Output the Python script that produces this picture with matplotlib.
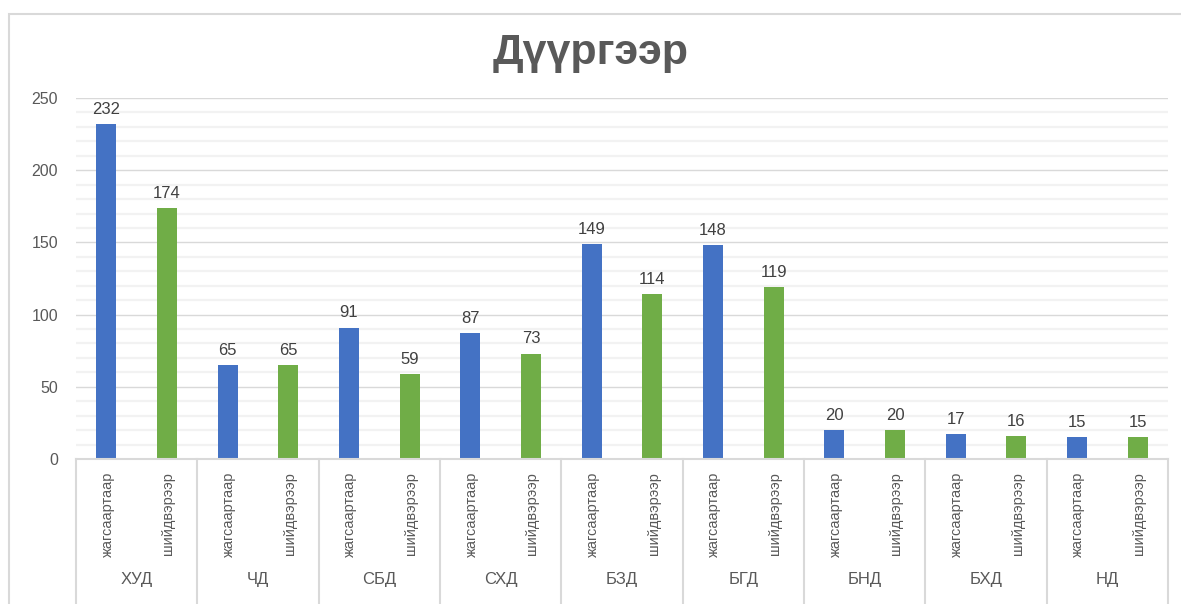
import matplotlib
matplotlib.use("Agg")
import matplotlib.pyplot as plt
import matplotlib.transforms as mtransforms
from matplotlib.patches import Rectangle
import numpy as np

plt.rcParams['font.family'] = ['Liberation Sans', 'DejaVu Sans']

# ── Data ──────────────────────────────────────────────────────────────────────
districts = ["ХУД", "ЧД", "СБД", "СХД", "БЗД", "БГД", "БНД", "БХД", "НД"]
sub_labels = ["жагсаартаар", "шийдвэрээр"]
by_list = [232, 65, 91, 87, 149, 148, 20, 17, 15]
by_decision = [174, 65, 59, 73, 114, 119, 20, 16, 15]

BLUE = "#4472C4"
GREEN = "#70AD47"
GRID_MAJ = "#d9d9d9"
GRID_MIN = "#f2f2f2"
TXT = "#595959"

W, H = 1181, 604
fig = plt.figure(figsize=(W / 100, H / 100), dpi=100, facecolor="white")

# chart frame (light grey border, partly outside the image)
fig.patches.append(Rectangle((9 / W, -0.05), 1.2, 1 - 14 / H + 0.05,
                             transform=fig.transFigure, fill=False,
                             ec=GRID_MAJ, lw=1.5))

ax = fig.add_axes([76 / W, 1 - 459 / H, (1168 - 76) / W, (459 - 98) / H])
ax.set_xlim(0, len(districts))
ax.set_ylim(0, 250)

x = np.arange(len(districts))
bw = 1 / 6
ax.bar(x + 0.25, by_list, width=bw, color=BLUE, zorder=3)
ax.bar(x + 0.75, by_decision, width=bw, color=GREEN, zorder=3)

for xi, v in zip(x + 0.25, by_list):
    ax.text(xi, v + 5, str(v), ha="center", va="bottom", fontsize=12, color="#404040")
for xi, v in zip(x + 0.75, by_decision):
    ax.text(xi, v + 5, str(v), ha="center", va="bottom", fontsize=12, color="#404040")

# gridlines
for yv in range(10, 250, 10):
    if yv % 50:
        ax.axhline(yv, color=GRID_MIN, lw=1.6, zorder=1)
for yv in range(50, 251, 50):
    ax.axhline(yv, color=GRID_MAJ, lw=1.0, zorder=2)

ax.set_yticks(range(0, 251, 50))
ax.tick_params(axis="y", length=0, pad=13, labelsize=11.5, labelcolor=TXT)
ax.set_xticks([])
for sp in ax.spines.values():
    sp.set_visible(False)

# two-level category axis
trans = mtransforms.blended_transform_factory(ax.transData, ax.transAxes)
ax.plot([0, len(districts)], [0, 0], transform=trans, color=GRID_MAJ, lw=1.5,
        clip_on=False, zorder=4)
for k in range(len(districts) + 1):
    ax.plot([k, k], [0, -0.42], transform=trans, color=GRID_MAJ, lw=1.5,
            clip_on=False)
for i, name in enumerate(districts):
    for j, lab in enumerate(sub_labels):
        ax.text(i + 0.25 + 0.5 * j + 0.01, -0.035, lab, transform=trans, rotation=90,
                ha="center", va="top", fontsize=10.5, color=TXT)
    ax.text(i + 0.5, -0.335, name, transform=trans, ha="center", va="center",
            fontsize=12, color=TXT)

fig.text(0.5, 1 - 53 / H, "Дүүргээр", ha="center", va="center",
         fontsize=31, fontweight="bold", color=TXT)

fig.savefig("out.png", dpi=100, facecolor="white")
